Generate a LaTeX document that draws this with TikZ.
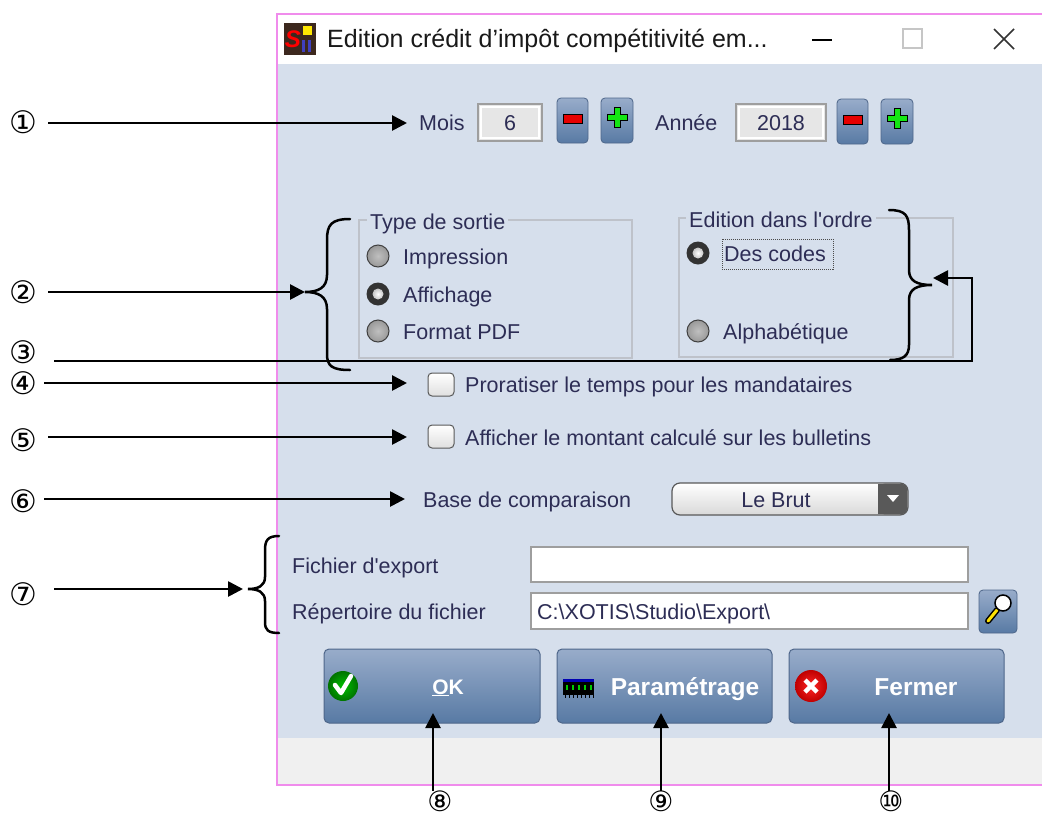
\documentclass[tikz,border=0pt]{standalone}
\usepackage{fontspec}
\setmainfont{Liberation Sans}[Ligatures=TeXOff]
\newfontfamily\circfont{DejaVu Sans}
\usetikzlibrary{arrows.meta}
\definecolor{bodyblue}{RGB}{214,223,236}
\definecolor{pinkb}{RGB}{240,140,236}
\definecolor{statgray}{RGB}{240,240,240}
\definecolor{txt}{RGB}{45,45,85}
\definecolor{grpline}{RGB}{190,194,202}
\definecolor{btntop}{RGB}{152,172,202}
\definecolor{btnbot}{RGB}{88,122,164}
\definecolor{btnborder}{RGB}{78,102,138}
\definecolor{boxfill}{RGB}{230,230,230}
\definecolor{boxline}{RGB}{158,158,158}
\definecolor{plusgreen}{RGB}{20,230,20}
\definecolor{minusred}{RGB}{230,0,0}
\definecolor{icondark}{RGB}{60,40,30}
\tikzset{
  ui/.style={font=\fontsize{21.5}{24}\selectfont, text=txt, inner sep=0pt},
  btntext/.style={font=\bfseries\fontsize{24.5}{26}\selectfont, text=white, inner sep=0pt},
  arr/.style={line width=2.7pt, -{Triangle[length=15pt,width=15pt]}},
  bracestyle/.style={line width=2.5pt, line cap=round},
  circ/.style={font=\circfont\fontsize{31}{31}\selectfont, inner sep=0pt},
  circlow/.style={font=\circfont\fontsize{28}{28}\selectfont, inner sep=0pt},
  smallbtn/.style={draw=btnborder, line width=0.8pt, rounded corners=4pt, top color=btntop, bottom color=btnbot},
  bigbtn/.style={draw=btnborder, line width=1pt, rounded corners=5pt, top color=btntop, bottom color=btnbot},
  valbox/.style={draw=boxline, line width=1.5pt, fill=boxfill},
  editbox/.style={draw=boxline, line width=1.5pt, fill=white},
  grpbox/.style={draw=grpline, line width=1.2pt},
  grptitle/.style={ui, fill=bodyblue, inner xsep=3pt, inner ysep=1pt},
  chkbox/.style={draw=gray!70!black, line width=1pt, rounded corners=4pt, top color=white, bottom color=gray!25},
  minusbtn/.pic={
    \path[smallbtn] (0,0) rectangle (31,45);
    \draw[black, fill=minusred, line width=0.9pt] (6,16) rectangle (25,25);
  },
  plusbtn/.pic={
    \path[smallbtn] (0,0) rectangle (32,45);
    \draw[black, fill=plusgreen, line width=0.9pt] (13,9) -- (19,9) -- (19,16) -- (26,16) -- (26,22) -- (19,22) -- (19,29) -- (13,29) -- (13,22) -- (6,22) -- (6,16) -- (13,16) -- cycle;
  },
  radiooff/.pic={
    \shade[inner color=gray!50, outer color=gray!80] (0,0) circle[radius=11pt];
    \draw[gray!50!black, line width=1pt] (0,0) circle[radius=11pt];
  },
  radioon/.pic={
    \fill[black!80] (0,0) circle[radius=11.5pt];
    \shade[inner color=white, outer color=gray!45] (0,0) circle[radius=5.5pt];
  },
}
\begin{document}
\begin{tikzpicture}[x=1pt,y=-1pt]
\useasboundingbox (0,0) rectangle (1042,817);
\fill[white] (0,0) rectangle (1042,817);
% window
\fill[white] (277,14) rectangle (1042,64);
\fill[bodyblue] (277,64) rectangle (1042,738);
\fill[statgray] (277,738) rectangle (1042,785);
\draw[pinkb, line width=1.5pt] (1042,14) -- (277,14) -- (277,785) -- (1042,785);
% title bar
\fill[icondark] (284,23) rectangle (316,55);
\node[font=\bfseries\itshape\fontsize{24}{24}\selectfont, text=red, inner sep=0pt] (iconS) at (293,39) {S};
\fill[yellow!90!orange] (303,26) rectangle (312,35);
\fill[gray!50!blue] (302,40) rectangle (305,52);
\fill[gray!50!blue] (308,40) rectangle (311,52);
\node[anchor=base west, font=\fontsize{25}{27}\selectfont, text=black!90, inner sep=0pt] (title) at (327,47) {Edition crédit d’impôt compétitivité em...};
\draw[black, line width=1.3pt] (812,40) -- (832,40);
\draw[gray!45, line width=1.3pt] (903,29) rectangle (922,48);
\draw[black!80, line width=1.5pt] (994,29) -- (1014,49) (1014,29) -- (994,49);
% row 1
\node[ui, anchor=base west] (mois) at (419,130) {Mois};
\draw[valbox] (478,104) rectangle (542,141);
\draw[white, line width=1.2pt] (481,107) rectangle (539,138);
\node[ui, anchor=base] (moisval) at (510,130) {6};
\pic (mm) at (557,98) {minusbtn};
\pic (mp) at (601,98) {plusbtn};
\node[ui, anchor=base west] (annee) at (655,130) {Année};
\draw[valbox] (736,104) rectangle (826,141);
\draw[white, line width=1.2pt] (739,107) rectangle (823,138);
\node[ui, anchor=base] (anneeval) at (781,130) {2018};
\pic (am) at (837,99) {minusbtn};
\pic (ap) at (881,99) {plusbtn};
% group boxes
\draw[grpbox] (359,220) rectangle (632,358);
\node[grptitle, anchor=base west] (typesortie) at (367,229) {Type de sortie};
\draw[grpbox] (679,218) rectangle (953,357);
\node[grptitle, anchor=base west] (editionordre) at (686,227) {Edition dans l'ordre};
\pic (r1) at (378,256) {radiooff};
\pic (r2) at (378,294) {radioon};
\pic (r3) at (378,331) {radiooff};
\pic (r4) at (698,253) {radioon};
\pic (r5) at (698,331) {radiooff};
\node[ui, anchor=base west] (impression) at (403,264) {Impression};
\node[ui, anchor=base west] (affichage) at (403,302) {Affichage};
\node[ui, anchor=base west] (formatpdf) at (403,339) {Format PDF};
\node[ui, anchor=base west] (descodes) at (724,261) {Des codes};
\draw[black!70, densely dotted, line width=1pt] (722,239) rectangle (833,269);
\node[ui, anchor=base west] (alpha) at (723,339) {Alphabétique};
% checkboxes
\draw[chkbox] (428,373) rectangle (454,396);
\node[ui, anchor=base west] (prorat) at (465,392) {Proratiser le temps pour les mandataires};
\draw[chkbox] (428,425) rectangle (454,448);
\node[ui, anchor=base west] (affmont) at (465,445) {Afficher le montant calculé sur les bulletins};
% base de comparaison
\node[ui, anchor=base west] (basecomp) at (423,507) {Base de comparaison};
\draw[black!65, line width=1.2pt, rounded corners=8pt, top color=white, bottom color=gray!30] (672,483) rectangle (908,515);
\fill[black!65, rounded corners=7pt] (878,483.6) rectangle (907.4,514.4);
\fill[black!65] (878,483.6) rectangle (890,514.4);
\fill[white] (887,495) -- (899,495) -- (893,502) -- cycle;
\node[ui, anchor=base] (lebrut) at (776,507) {Le Brut};
% export
\node[ui, anchor=base west] (fichier) at (292,573) {Fichier d'export};
\draw[editbox] (531,547) rectangle (968,582);
\node[ui, anchor=base west] (repert) at (292,619) {Répertoire du fichier};
\draw[editbox] (531,593) rectangle (968,629);
\node[ui, anchor=base west] (chemin) at (537,619) {C:\textbackslash XOTIS\textbackslash Studio\textbackslash Export\textbackslash};
\path[smallbtn] (979,590) rectangle (1017,633);
\draw[black, line width=6pt, line cap=round] (997,610) -- (988,621);
\draw[yellow!85!orange, line width=3pt, line cap=round] (997,610) -- (988,621);
\draw[black, line width=1.5pt, fill=white] (1003,603) circle[radius=8pt];
% big buttons
\path[bigbtn] (324,649) rectangle (540,723);
\path[bigbtn] (557,649) rectangle (772,723);
\path[bigbtn] (789,649) rectangle (1004,723);
\shade[inner color=green!75!black, outer color=green!45!black] (343,686) circle[radius=15pt];
\draw[white, line width=4.5pt, line cap=round, line join=round] (335,685) -- (341,693) -- (351,676);
\node[font=\bfseries\fontsize{21}{24}\selectfont, text=white, inner sep=0pt, anchor=base] (ok) at (448,694) {\underline{O}K};
\fill[black] (563,681) rectangle (594,695);
\fill[blue!70!black] (563,679) rectangle (594,682);
\foreach \cx in {566,572,578,584,590} {\fill[green!80!black] (\cx,685) rectangle (\cx+2,690);}
\foreach \cx in {565,569,...,593} {\draw[black, line width=1pt] (\cx,695) -- (\cx,698);}
\node[btntext, anchor=base] (param) at (685,695) {Paramétrage};
\shade[inner color=red!85, outer color=red!75!black] (811,686) circle[radius=16pt];
\draw[white, line width=4.5pt] (805,680) -- (817,692) (817,680) -- (805,692);
\node[btntext, anchor=base] (fermer) at (916,695) {Fermer};
% callout labels
\node[circ] (l1) at (23,122) {①};
\node[circ] (l2) at (23,292) {②};
\node[circ] (l3) at (23,352) {③};
\node[circ] (l4) at (23,383) {④};
\node[circ] (l5) at (23,440) {⑤};
\node[circ] (l6) at (23,501) {⑥};
\node[circ] (l7) at (23,594) {⑦};
\node[circlow] (l8) at (440,801) {⑧};
\node[circlow] (l9) at (661,801) {⑨};
\node[circlow] (l10) at (891,801) {⑩};
% arrow end points
\coordinate (s1) at (48,123);  \coordinate (t1) at (407,123);
\coordinate (s2) at (48,292);  \coordinate (t2) at (305,292);
\coordinate (s3) at (54,361);  \coordinate (c3a) at (972,361); \coordinate (c3b) at (972,278); \coordinate (t3) at (933,278);
\coordinate (s4) at (44,383);  \coordinate (t4) at (407,383);
\coordinate (s5) at (48,437);  \coordinate (t5) at (407,437);
\coordinate (s6) at (44,499);  \coordinate (t6) at (405,499);
\coordinate (s7) at (54,589);  \coordinate (t7) at (243,589);
\coordinate (s8) at (433,791); \coordinate (t8) at (433,713);
\coordinate (s9) at (661,791); \coordinate (t9) at (661,713);
\coordinate (s10) at (889,791); \coordinate (t10) at (889,713);
\draw[arr] (s1) -- (t1);
\draw[arr] (s2) -- (t2);
\draw[arr, line join=miter] (s3) -- (c3a) -- (c3b) -- (t3);
\draw[arr] (s4) -- (t4);
\draw[arr] (s5) -- (t5);
\draw[arr] (s6) -- (t6);
\draw[arr] (s7) -- (t7);
\draw[arr] (s8) -- (t8);
\draw[arr] (s9) -- (t9);
\draw[arr] (s10) -- (t10);
% braces
\draw[bracestyle] (350,219) .. controls (331,219) and (327,225) .. (327,240) -- (327,275) .. controls (327,288) and (318,292) .. (305,292) .. controls (318,292) and (327,296) .. (327,309) -- (327,354) .. controls (327,366) and (332,370) .. (350,370);
\draw[bracestyle] (889,210) .. controls (906,210) and (909,216) .. (909,230) -- (909,270) .. controls (909,281) and (917,285) .. (932,285) .. controls (917,285) and (909,289) .. (909,300) -- (909,345) .. controls (909,356) and (903,360) .. (890,360);
\draw[bracestyle] (279,536) .. controls (268,536) and (265,540) .. (265,550) -- (265,577) .. controls (265,586) and (258,589) .. (248,589) .. controls (258,589) and (265,592) .. (265,601) -- (265,622) .. controls (265,630) and (268,633) .. (279,633);
\end{tikzpicture}
\end{document}
